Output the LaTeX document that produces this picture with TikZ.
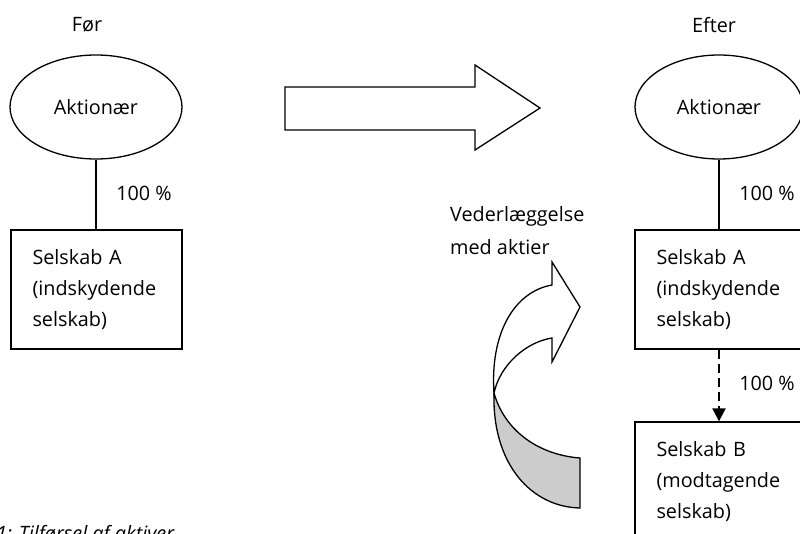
\documentclass[tikz,border=0pt]{standalone}
\usepackage{fontspec}
\setmainfont{Open Sans}
\usetikzlibrary{shapes.geometric,arrows.meta}
\begin{document}
\begin{tikzpicture}[x=1pt,y=-1pt,
  every node/.style={font=\fontsize{19.8}{31}\selectfont},
  lbl/.style={inner sep=0pt},
  actor/.style={draw,line width=1.3pt,ellipse,minimum width=172pt,minimum height=104pt,inner sep=0pt},
  company/.style={draw,line width=1.3pt,rectangle,minimum width=171pt,minimum height=119pt,
     text width=128pt,inner xsep=21.5pt,inner ysep=0pt,align=left},
  link/.style={line width=1.3pt},
  owns/.style={line width=2pt,dash pattern=on 9pt off 5pt,-{Triangle[length=13pt,width=13pt]}},
  bigarrow/.style={draw,line width=1.3pt,fill=white,line join=miter},
  back/.style={draw,line width=1.3pt,fill=black!20}
]
\useasboundingbox (0,0) rectangle (800,534);
\clip (0,0) rectangle (800,534);
\hyphenpenalty=10000

% Before
\node[lbl] (foer) at (87,25) {Før};
\node[actor] (aktL) at (96,107) {Aktionær};
\node[company] (boxL) at (96.5,289.5) {Selskab A\\(indskydende\\selskab)};
\draw[link] (aktL.south) -- (aktL.south |- boxL.north);
\node[lbl] (pL) at (144,193) {100 \%};

% Big arrow
\coordinate (bA) at (285,87);
\coordinate (bB) at (475,87);
\coordinate (bC) at (475,65);
\coordinate (bD) at (540,108);
\coordinate (bE) at (475,150);
\coordinate (bF) at (475,130);
\coordinate (bG) at (285,130);
\draw[bigarrow] (bA) -- (bB) -- (bC) -- (bD) -- (bE) -- (bF) -- (bG) -- cycle;

% After
\node[lbl] (efter) at (714,25) {Efter};
\node[actor,minimum width=168pt] (aktR) at (719,107) {Aktionær};
\node[company] (boxAR) at (720.5,289.5) {Selskab A\\(indskydende\\selskab)};
\draw[link] (aktR.south) -- (aktR.south |- boxAR.north);
\node[lbl] (pR) at (767,193) {100 \%};
\node[company] (boxBR) at (720.5,481.5) {Selskab B\\(modtagende\\selskab)};
\draw[owns] (aktR.south |- boxAR.south) -- (aktR.south |- boxBR.north);
\node[lbl] (pB) at (767,383) {100 \%};

% Curved arrow
\node[lbl,anchor=west,align=left,font=\fontsize{19.8}{33}\selectfont] (veder) at (450,231) {Vederlæggelse\\med aktier};
\coordinate (cJ) at (494,393);
\coordinate (cH1) at (552,285);
\coordinate (cH2) at (552,262);
\coordinate (cT) at (580,307);
\coordinate (cH3) at (552,362);
\coordinate (cH4) at (552,338);
\coordinate (cB1) at (580,508);
\coordinate (cB2) at (580,458);
\draw[back] (cJ) .. controls (492,465) and (532,507) .. (cB1) -- (cB2)
  .. controls (540,455) and (505,432) .. (cJ) -- cycle;
\draw[bigarrow] (cJ) .. controls (490,335) and (513,292) .. (cH1) -- (cH2) -- (cT) -- (cH3) -- (cH4)
  .. controls (526,342) and (500,365) .. (cJ) -- cycle;

% Caption
\node[lbl,anchor=base west,font=\fontsize{19.8}{22}\selectfont\itshape] (cap) at (-4,540) {1: Tilførsel af aktiver};
\end{tikzpicture}
\end{document}
